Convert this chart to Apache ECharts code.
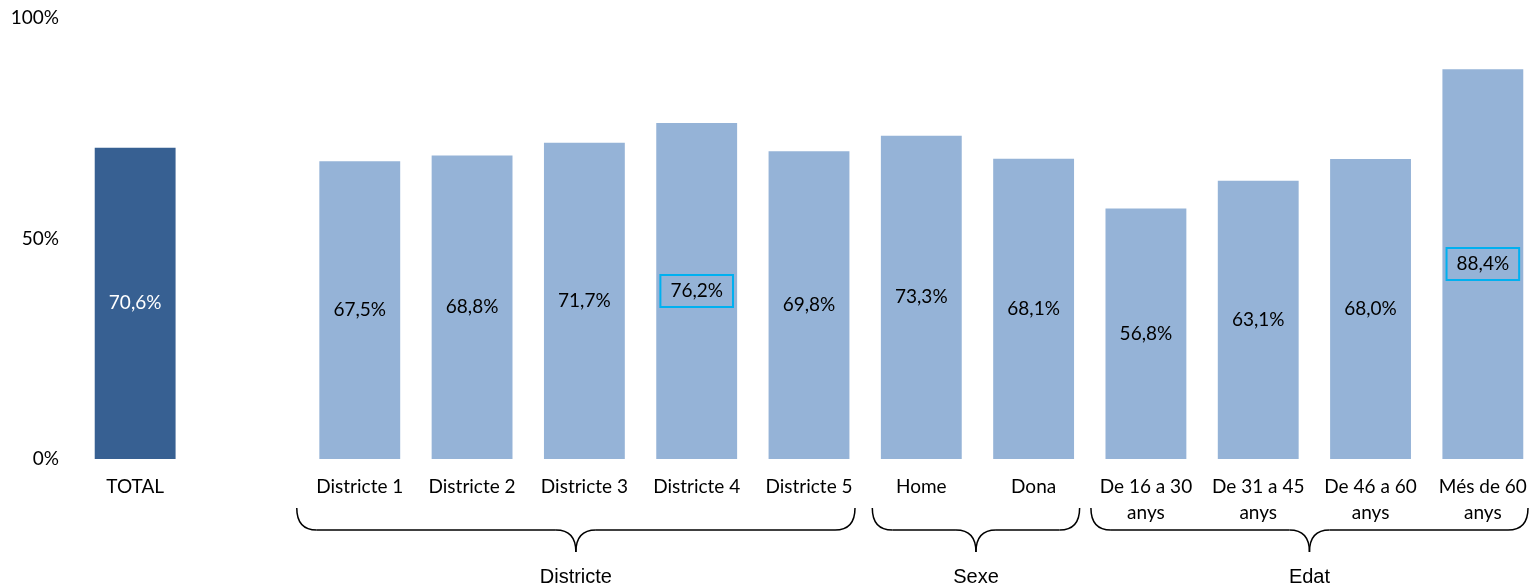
<!DOCTYPE html>
<html>
<head>
<meta charset="utf-8">
<script src="https://cdn.jsdelivr.net/npm/echarts@6/dist/echarts.min.js"></script>
<style>
html,body{margin:0;padding:0;background:#fff;}
#main{width:1532px;height:585px;}
</style>
</head>
<body>
<div id="main"></div>
<script>
// ---- data ----
const categories = ['TOTAL', '', 'Districte 1', 'Districte 2', 'Districte 3', 'Districte 4', 'Districte 5',
  'Home', 'Dona', 'De 16 a 30\nanys', 'De 31 a 45\nanys', 'De 46 a 60\nanys', 'Més de 60\nanys'];
const values = [70.6, null, 67.5, 68.8, 71.7, 76.2, 69.8, 73.3, 68.1, 56.8, 63.1, 68.0, 88.4];
const highlighted = ['Districte 4', 'Més de 60\nanys'];
const yTicks = [0, 50, 100];
const groupNames = ['Districte', 'Sexe', 'Edat'];
const groupFrom = ['Districte 1', 'Home', 'De 16 a 30\nanys'];
const groupTo = ['Districte 5', 'Dona', 'Més de 60\nanys'];

const FONT = 'Lato';
const chart = echarts.init(document.getElementById('main'), null, {renderer: 'canvas'});

function fmt(v) { return v.toFixed(1).replace('.', ',') + '%'; }

const seriesData = values.map((v, i) => {
  if (v === null) return '-';
  const item = {value: v};
  if (i === 0) {
    item.itemStyle = {color: '#376092'};
    item.label = {color: '#ffffff'};
  }
  if (highlighted.indexOf(categories[i]) >= 0) {
    item.label = {borderColor: '#00b0f0', borderWidth: 2, padding: [7, 10, 6, 10]};
  }
  return item;
});

chart.setOption({
  animation: false,
  grid: {left: 79, top: 18, width: 1460, bottom: 126, containLabel: false, outerBoundsMode: 'none'},
  xAxis: {
    type: 'category',
    data: categories,
    axisLine: {show: false},
    axisTick: {show: false},
    axisLabel: {interval: 0, color: '#000', fontFamily: FONT, fontSize: 19, lineHeight: 26, margin: 15}
  },
  yAxis: {
    type: 'value',
    min: 0, max: 100, interval: 50,
    splitLine: {show: false},
    axisLine: {show: false},
    axisTick: {show: false},
    axisLabel: {color: '#000', fontFamily: FONT, fontSize: 19, margin: 20,
      formatter: v => (yTicks.indexOf(v) >= 0 ? v + '%' : '')}
  },
  series: [{
    type: 'bar',
    data: seriesData,
    barWidth: '72%',
    itemStyle: {color: '#95b3d7'},
    label: {show: true, position: 'inside', color: '#000', fontFamily: FONT, fontSize: 19,
      formatter: p => fmt(p.value)}
  }]
});

// group brackets computed from axis positions (layout insets per bracket)
const leftInset = [63, 49, 55];
const yTop = 508, yMid = 530, yTip = 552, r = 20;
const lineStyle = {stroke: '#000', lineWidth: 1.5, fill: null};
const graphics = [];
function curve(x1, y1, cx, cy, x2, y2) {
  graphics.push({type: 'bezierCurve', shape: {x1: x1, y1: y1, cpx1: cx, cpy1: cy, x2: x2, y2: y2}, style: lineStyle});
}
function seg(x1, y1, x2, y2) {
  graphics.push({type: 'line', shape: {x1: x1, y1: y1, x2: x2, y2: y2}, style: lineStyle});
}
for (let g = 0; g < groupNames.length; g++) {
  const xa = chart.convertToPixel({xAxisIndex: 0}, groupFrom[g]);
  const xb = chart.convertToPixel({xAxisIndex: 0}, groupTo[g]);
  const x1 = xa - leftInset[g], x2 = Math.min(xb + 46, 1528);
  const cx = (x1 + x2) / 2;
  curve(x1, yTop, x1, yMid, x1 + r, yMid);
  seg(x1 + r, yMid, cx - r, yMid);
  curve(cx - r, yMid, cx, yMid, cx, yTip);
  curve(cx, yTip, cx, yMid, cx + r, yMid);
  seg(cx + r, yMid, x2 - r, yMid);
  curve(x2 - r, yMid, x2, yMid, x2, yTop);
  graphics.push({
    type: 'text', x: cx, y: 577,
    style: {text: groupNames[g], fill: '#000', font: '20px "Liberation Sans", Arial', align: 'center', verticalAlign: 'middle'}
  });
}
chart.setOption({graphic: graphics});
</script>
</body>
</html>
